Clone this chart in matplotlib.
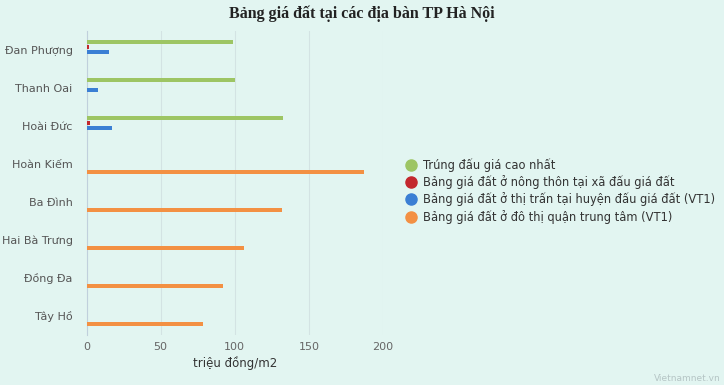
import numpy as np
import matplotlib.pyplot as plt
from matplotlib.lines import Line2D

# dữ liệu (triệu đồng/m2)
dia_ban = ['Đan Phượng', 'Thanh Oai', 'Hoài Đức', 'Hoàn Kiếm',
           'Ba Đình', 'Hai Bà Trưng', 'Đồng Đa', 'Tây Hồ']
trung_dau_gia = [99, 100, 132.5, None, None, None, None, None]
nong_thon = [2, None, 2.5, None, None, None, None, None]
thi_tran = [15, 8, 17, None, None, None, None, None]
do_thi = [None, None, None, 187, 132, 106, 92, 78.5]

ten_series = ['Trúng đấu giá cao nhất',
              'Bảng giá đất ở nông thôn tại xã đấu giá đất',
              'Bảng giá đất ở thị trấn tại huyện đấu giá đất (VT1)',
              'Bảng giá đất ở đô thị quận trung tâm (VT1)']
mau = ['#9dc564', '#c3282e', '#3b7fd4', '#f39043']

bg = '#e2f5f1'
fig = plt.figure(figsize=(7.24, 3.85), dpi=100, facecolor=bg)
ax = fig.add_axes([86.5/724, 1-335/385, (383-86.5)/724, (335-31)/385])
ax.set_facecolor(bg)

y = np.arange(len(dia_ban))
offsets = [-0.21, -0.09, 0.05, 0.2]
for s, (vals, c) in enumerate(zip([trung_dau_gia, nong_thon, thi_tran, do_thi], mau)):
    v = np.array([np.nan if x is None else x for x in vals], dtype=float)
    ax.barh(y + offsets[s], v, height=0.105, color=c, zorder=3)

ax.set_ylim(len(dia_ban) - 0.5, -0.5)
ax.set_xlim(0, 200)
ax.set_yticks(y)
ax.set_yticklabels(dia_ban, fontsize=8, color='#555555')
ax.set_xticks([0, 50, 100, 150, 200])
ax.tick_params(axis='x', colors='#666666', labelsize=8, length=0, pad=5)
ax.tick_params(axis='y', length=0, pad=10)
ax.grid(axis='x', color='#d3e3e3', lw=0.8, zorder=0)
for sp in ['top', 'right', 'bottom']:
    ax.spines[sp].set_visible(False)
ax.spines['left'].set_color('#c0d0dc')
ax.set_xlabel('triệu đồng/m2', fontsize=8.5, color='#333333', labelpad=3)

fig.suptitle('Bảng giá đất tại các địa bàn TP Hà Nội', family='Liberation Serif',
             fontweight='bold', fontsize=11.5, color='#222222', y=0.985)

handles = [Line2D([0], [0], marker='o', color='none', markerfacecolor=c,
                  markeredgecolor=c, markersize=8) for c in mau]
fig.legend(handles, ten_series, loc='center left', bbox_to_anchor=(394/724, 1-191/385),
           frameon=False, fontsize=8.3, handletextpad=0.45, labelspacing=0.28,
           labelcolor='#333333', handlelength=1.2)

fig.text(0.995, 0.005, 'Vietnamnet.vn', fontsize=6.5, color='#b5c5c5',
         ha='right', va='bottom')

fig.savefig('out.png', dpi=100, facecolor=bg)
